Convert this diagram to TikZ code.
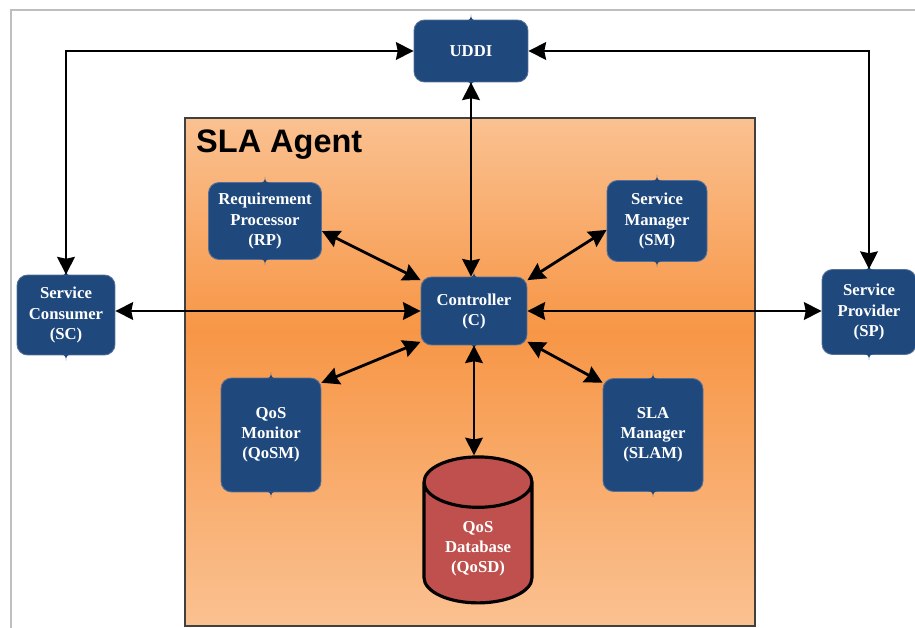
\documentclass[tikz,border=0pt]{standalone}
\usepackage{fontspec}
\setmainfont{Liberation Serif}
\newfontfamily\titlefont{Liberation Sans}
\usetikzlibrary{arrows.meta,shapes.geometric}
\definecolor{boxblue}{RGB}{31,73,125}
\definecolor{boxedge}{RGB}{84,112,152}
\definecolor{dbred}{RGB}{192,80,77}
\definecolor{agentlight}{RGB}{250,193,145}
\definecolor{agentdark}{RGB}{247,150,70}
\definecolor{framegray}{RGB}{190,190,190}
\pgfdeclareverticalshading{agentshade}{100bp}{color(0bp)=(agentlight); color(25bp)=(agentlight); color(54bp)=(agentdark); color(75bp)=(agentlight); color(100bp)=(agentlight)}
\tikzset{
    every node/.style={font=\fontsize{9.5}{11.4}\selectfont\bfseries, text=white,
    	align=center}
}
\tikzset{
    block/.style={rectangle, rounded corners=6pt, fill=boxblue, draw=boxedge,
    	line width=0.5pt, inner sep=2pt}
}
\tikzset{
    link/.style={line width=1.6pt,
    	{Stealth[length=10pt,width=10pt,inset=1pt]}-{Stealth[length=10pt,width=10pt,inset=1pt]}}
}

\begin{document}
\begin{tikzpicture}[x=0.02cm, y=-0.02cm]
	\useasboundingbox (0,0) rectangle (915,628);
	\draw[framegray, line width=0.8pt] (11,628) -- (11,10) -- (915,10);
	\path[shading=agentshade, draw=black!75, line width=0.8pt] (185,118) rectangle (755,626);
	\node[anchor=west, text=black, font=\titlefont\fontsize{18.5}{20}\selectfont\bfseries] (title) at (190,145) {SLA Agent};

	\node (uddi) [block, minimum width=2.28cm, minimum height=1.24cm] at (471, 51) {UDDI};
	\node (sc) [block, minimum width=1.96cm, minimum height=1.60cm] at ( 66,315) {Service\\Consumer\\(SC)};
	\node (sp) [block, minimum width=1.88cm, minimum height=1.70cm] at (869,312) {Service\\Provider\\(SP)};
	\node (rp) [block, minimum width=2.26cm, minimum height=1.54cm] at (265,221) {Requirement\\Processor\\(RP)};
	\node (sm) [block, minimum width=2.00cm, minimum height=1.62cm] at (657,221) {Service\\Manager\\(SM)};
	\node (c) [block, minimum width=2.12cm, minimum height=1.36cm] at (474,311) {Controller\\(C)};
	\node (qosm) [block, minimum width=2.00cm, minimum height=2.28cm] at (271,435) {QoS\\Monitor\\(QoSM)};
	\node (slam) [block, minimum width=2.00cm, minimum height=2.26cm] at (653,435) {SLA\\Manager\\(SLAM)};
	\node (qosd) [cylinder, shape border rotate=90, aspect=0.65, fill=dbred, draw=black,
		line width=1.8pt, minimum width=2.16cm, minimum height=2.92cm] at (478,549) {QoS\\Database\\(QoSD)};

	% little tips on top and bottom of the blue boxes
	\foreach \n in {uddi,sc,sp,rp,sm,c,qosm,slam} {
		\fill[boxblue] ([xshift=-3pt,yshift=-0.5pt]\n.north) .. controls ([xshift=-0.5pt,yshift=-0.5pt]\n.north) and ([yshift=1pt]\n.north) .. ([yshift=3pt]\n.north)
			.. controls ([yshift=1pt]\n.north) and ([xshift=0.5pt,yshift=-0.5pt]\n.north) .. ([xshift=3pt,yshift=-0.5pt]\n.north) -- cycle;
		\fill[boxblue] ([xshift=-3pt,yshift=0.5pt]\n.south) .. controls ([xshift=-0.5pt,yshift=0.5pt]\n.south) and ([yshift=-1pt]\n.south) .. ([yshift=-3pt]\n.south)
			.. controls ([yshift=-1pt]\n.south) and ([xshift=0.5pt,yshift=0.5pt]\n.south) .. ([xshift=3pt,yshift=0.5pt]\n.south) -- cycle;
	}

	\draw[link] (uddi.west) -| (sc.north);
	\draw[link] (uddi.east) -| (sp.north);
	\draw[link] (uddi.south) -- (uddi.south |- c.north);
	\draw[link] (sc.east |- c.west) -- (c.west);
	\draw[link] (c.east) -- (c.east -| sp.west);
	\draw[link] (rp.-10) -- (c.150);
	\draw[link] (sm.190) -- (c.30);
	\draw[link] (qosm.46) -- (c.-150);
	\draw[link] (slam.134) -- (c.-30);
	\draw[link] (c.south) -- (c.south |- qosd.north);
\end{tikzpicture}
\end{document}
